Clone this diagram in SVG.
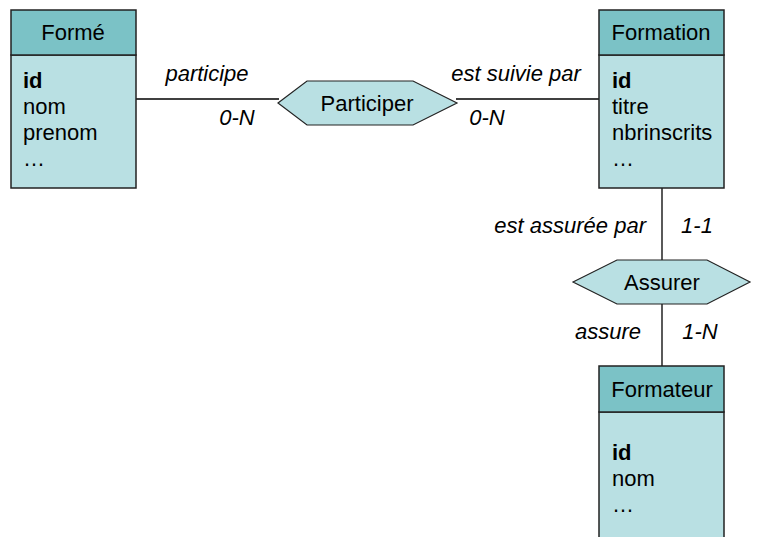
<svg xmlns="http://www.w3.org/2000/svg" width="758" height="537" viewBox="0 0 758 537">
<style>
text{font-family:"Liberation Sans",Arial,sans-serif;font-size:22px;fill:#000}
.hdr{fill:#7bc2c6;stroke:#222;stroke-width:1.5}
.body{fill:#b9e0e3;stroke:#222;stroke-width:1.5}
.hex{fill:#b9e0e3;stroke:#222;stroke-width:1.2}
.c{text-anchor:middle}
.b{font-weight:bold}
.i{font-style:italic}
.e{text-anchor:end}
.ln{stroke:#000;stroke-width:1.3;fill:none}
</style>
<rect width="758" height="537" fill="#fff"/>
<g id="connectors">
<line class="ln" x1="136" y1="99" x2="279" y2="99"/>
<line class="ln" x1="456" y1="99" x2="599" y2="99"/>
<line class="ln" x1="662" y1="188" x2="662" y2="260"/>
<line class="ln" x1="662" y1="304" x2="662" y2="366"/>
<text class="i c" x="207" y="81">participe</text>
<text class="i c" x="237" y="125">0-N</text>
<text class="i c" x="516" y="81">est suivie par</text>
<text class="i c" x="487" y="125">0-N</text>
<text class="i e" x="646" y="233">est assurée par</text>
<text class="i c" x="697" y="233">1-1</text>
<text class="i e" x="641" y="339">assure</text>
<text class="i c" x="700" y="339">1-N</text>
</g>
<g id="forme">
<rect class="body" x="11" y="55" width="125" height="133"/>
<rect class="hdr" x="11" y="10" width="125" height="45"/>
<text class="c" x="73" y="40">Formé</text>
<text class="b" x="23" y="88">id</text>
<text x="23" y="114">nom</text>
<text x="23" y="140">prenom</text>
<text x="23" y="166">…</text>
</g>
<g id="participer">
<polygon class="hex" points="278,103 307,81 413,81 457,103 413,125 307,125"/>
<text class="c" x="367" y="111">Participer</text>
</g>
<g id="formation">
<rect class="body" x="599" y="55" width="125" height="133"/>
<rect class="hdr" x="599" y="10" width="125" height="45"/>
<text class="c" x="661" y="40">Formation</text>
<text class="b" x="612" y="88">id</text>
<text x="612" y="114">titre</text>
<text x="612" y="140">nbrinscrits</text>
<text x="612" y="166">…</text>
</g>
<g id="assurer">
<polygon class="hex" points="573,282 617,260 707,260 750,282 707,304 617,304"/>
<text class="c" x="662" y="290">Assurer</text>
</g>
<g id="formateur">
<rect class="body" x="599" y="412" width="125" height="135"/>
<rect class="hdr" x="599" y="366" width="125" height="46"/>
<text class="c" x="662" y="397">Formateur</text>
<text class="b" x="612" y="460">id</text>
<text x="612" y="486">nom</text>
<text x="612" y="512">…</text>
</g>
</svg>
